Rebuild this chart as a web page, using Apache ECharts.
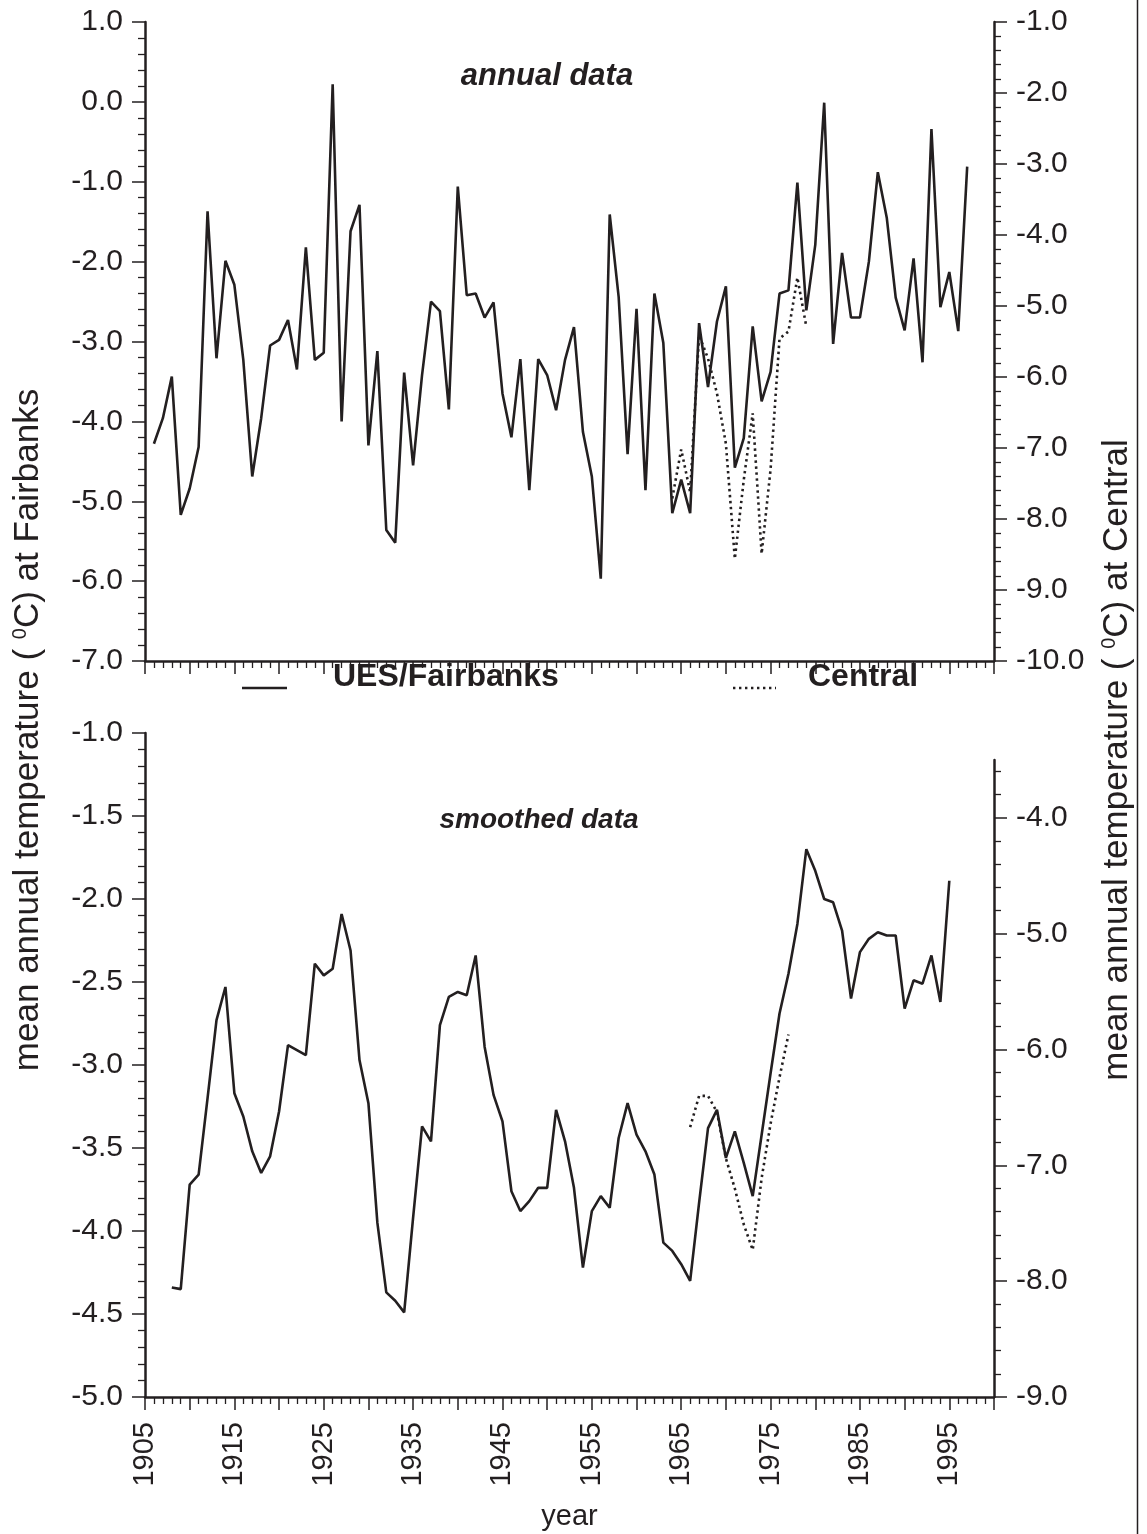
<!DOCTYPE html>
<html>
<head>
<meta charset="utf-8">
<script src="https://cdn.jsdelivr.net/npm/echarts@6/dist/echarts.min.js"></script>
<style>
  html, body { margin: 0; padding: 0; background: #ffffff; }
  #chart { width: 1147px; height: 1534px; }
</style>
</head>
<body>
<div id="chart"></div>
<script>
// Mean annual air temperature, UES/Fairbanks and Central, Alaska

// annual data — UES/Fairbanks (left axis, °C)
const fairbanksAnnualYears = [
  1906, 1907, 1908, 1909, 1910, 1911, 1912, 1913, 1914, 1915,
  1916, 1917, 1918, 1919, 1920, 1921, 1922, 1923, 1924, 1925,
  1926, 1927, 1928, 1929, 1930, 1931, 1932, 1933, 1934, 1935,
  1936, 1937, 1938, 1939, 1940, 1941, 1942, 1943, 1944, 1945,
  1946, 1947, 1948, 1949, 1950, 1951, 1952, 1953, 1954, 1955,
  1956, 1957, 1958, 1959, 1960, 1961, 1962, 1963, 1964, 1965,
  1966, 1967, 1968, 1969, 1970, 1971, 1972, 1973, 1974, 1975,
  1976, 1977, 1978, 1979, 1980, 1981, 1982, 1983, 1984, 1985,
  1986, 1987, 1988, 1989, 1990, 1991, 1992, 1993, 1994, 1995,
  1996, 1997
];
const fairbanksAnnual = [
  -4.28, -3.96, -3.44, -5.17, -4.84, -4.32, -1.37, -3.21, -1.99, -2.29,
  -3.23, -4.69, -3.96, -3.05, -2.98, -2.73, -3.35, -1.82, -3.23, -3.14,
   0.22, -4.00, -1.62, -1.29, -4.30, -3.12, -5.36, -5.52, -3.39, -4.55,
  -3.42, -2.50, -2.62, -3.85, -1.06, -2.42, -2.40, -2.70, -2.51, -3.65,
  -4.20, -3.22, -4.86, -3.22, -3.42, -3.86, -3.23, -2.82, -4.13, -4.69,
  -5.97, -1.41, -2.44, -4.41, -2.59, -4.86, -2.40, -3.02, -5.15, -4.73,
  -5.15, -2.77, -3.57, -2.75, -2.31, -4.58, -4.21, -2.81, -3.75, -3.38,
  -2.40, -2.36, -1.01, -2.61, -1.79, -0.01, -3.03, -1.89, -2.70, -2.70,
  -2.00, -0.88, -1.45, -2.45, -2.86, -1.96, -3.26, -0.34, -2.57, -2.13,
  -2.87, -0.81
];

// annual data — Central (right axis, °C)
const centralAnnualYears = [
  1964, 1965, 1966, 1967, 1968, 1969, 1970, 1971,
  1972, 1973, 1974, 1975, 1976, 1977, 1978, 1979
];
const centralAnnual = [
  -7.71, -7.02, -7.62, -5.41, -5.74, -6.23, -6.94, -8.56,
  -7.45, -6.51, -8.49, -7.30, -5.46, -5.36, -4.60, -5.29
];

// smoothed data — UES/Fairbanks (left axis, °C)
const fairbanksSmoothYears = [
  1908, 1909, 1910, 1911, 1912, 1913, 1914, 1915, 1916, 1917,
  1918, 1919, 1920, 1921, 1922, 1923, 1924, 1925, 1926, 1927,
  1928, 1929, 1930, 1931, 1932, 1933, 1934, 1935, 1936, 1937,
  1938, 1939, 1940, 1941, 1942, 1943, 1944, 1945, 1946, 1947,
  1948, 1949, 1950, 1951, 1952, 1953, 1954, 1955, 1956, 1957,
  1958, 1959, 1960, 1961, 1962, 1963, 1964, 1965, 1966, 1967,
  1968, 1969, 1970, 1971, 1972, 1973, 1974, 1975, 1976, 1977,
  1978, 1979, 1980, 1981, 1982, 1983, 1984, 1985, 1986, 1987,
  1988, 1989, 1990, 1991, 1992, 1993, 1994, 1995
];
const fairbanksSmooth = [
  -4.34, -4.35, -3.72, -3.66, -3.20, -2.73, -2.53, -3.17, -3.31, -3.52,
  -3.65, -3.55, -3.28, -2.88, -2.91, -2.94, -2.39, -2.46, -2.42, -2.09,
  -2.31, -2.97, -3.23, -3.95, -4.37, -4.42, -4.49, -3.92, -3.37, -3.46,
  -2.76, -2.59, -2.56, -2.58, -2.34, -2.89, -3.18, -3.34, -3.76, -3.88,
  -3.82, -3.74, -3.74, -3.27, -3.46, -3.74, -4.22, -3.88, -3.79, -3.86,
  -3.44, -3.23, -3.42, -3.52, -3.66, -4.07, -4.12, -4.20, -4.30, -3.83,
  -3.38, -3.27, -3.56, -3.40, -3.59, -3.79, -3.42, -3.05, -2.69, -2.45,
  -2.15, -1.70, -1.83, -2.00, -2.02, -2.19, -2.60, -2.32, -2.24, -2.20,
  -2.22, -2.22, -2.66, -2.49, -2.51, -2.34, -2.62, -1.89
];

// smoothed data — Central (right axis, °C)
const centralSmoothYears = [
  1966, 1967, 1968, 1969, 1970, 1971, 1972, 1973, 1974, 1975, 1976, 1977
];
const centralSmooth = [
  -6.67, -6.40, -6.40, -6.54, -6.94, -7.20, -7.51, -7.73, -7.11, -6.64, -6.24, -5.87
];

// axis tick values
const yearLabels = [1905, 1915, 1925, 1935, 1945, 1955, 1965, 1975, 1985, 1995];
const centralSmoothMajorTicks = [-9, -8, -7, -6, -5, -4];

const INK = '#231f20';
const FONT = '"Liberation Sans", Arial, Helvetica, sans-serif';

function pairs(xs, ys) {
  return xs.map((x, i) => [x, ys[i]]);
}

function yearAxis(gridIndex, withLabels, visible) {
  return {
    type: 'value', gridIndex, min: 1905, max: 2000, interval: 5,
    show: visible,
    axisLine: { show: true, onZero: false, lineStyle: { color: INK, width: 2.5 } },
    axisTick: { show: true, length: 13, lineStyle: { color: INK, width: 1.5 } },
    minorTick: { show: true, splitNumber: 5, length: 7, lineStyle: { color: INK, width: 1.3 } },
    splitLine: { show: false },
    minorSplitLine: { show: false },
    axisLabel: {
      show: withLabels, rotate: 90, margin: 25, color: INK,
      fontFamily: FONT, fontSize: 29,
      formatter: v => (yearLabels.indexOf(v) >= 0 ? String(v) : '')
    },
    name: withLabels ? 'year' : '',
    nameLocation: 'middle', nameGap: 105,
    nameTextStyle: { color: INK, fontFamily: FONT, fontSize: 29 }
  };
}

function tempAxis(gridIndex, position, min, max, interval, extra) {
  return Object.assign({
    type: 'value', gridIndex, position, min, max, interval,
    axisLine: { show: true, onZero: false, lineStyle: { color: INK, width: 2.5 } },
    axisTick: { show: true, length: 13, lineStyle: { color: INK, width: 1.5 } },
    minorTick: { show: true, splitNumber: 5, length: 7, lineStyle: { color: INK, width: 1.3 } },
    splitLine: { show: false },
    minorSplitLine: { show: false },
    axisLabel: {
      margin: 22, color: INK, fontFamily: FONT, fontSize: 30,
      formatter: v => v.toFixed(1)
    }
  }, extra || {});
}

// minor tick positions of the lower Central axis
const centralSmoothMinorTicks = [];
for (let t = -8.8; t < -3.55; t += 0.2) {
  const r = Math.round(t * 10) / 10;
  if (Math.abs(r - Math.round(r)) > 0.05) centralSmoothMinorTicks.push(r);
}

const solid = { color: INK, width: 2.6, type: 'solid' };
const dotted = { color: INK, width: 2.6, type: [2.4, 3.6], cap: 'butt' };

const chart = echarts.init(document.getElementById('chart'), null, { renderer: 'canvas' });

chart.setOption({
  backgroundColor: '#ffffff',
  animation: false,
  grid: [
    { left: 145, right: 153, top: 22, bottom: 873, containLabel: false, outerBoundsMode: 'none' },
    { left: 145, right: 153, top: 733, bottom: 137, containLabel: false, outerBoundsMode: 'none' },
    { left: 145, right: 153, top: 760, bottom: 137, containLabel: false, outerBoundsMode: 'none' }
  ],
  xAxis: [
    yearAxis(0, false, true),
    yearAxis(1, true, true),
    yearAxis(2, false, false)
  ],
  yAxis: [
    tempAxis(0, 'left', -7, 1, 1),
    tempAxis(0, 'right', -10, -1, 1),
    tempAxis(1, 'left', -5, -1, 0.5),
    tempAxis(2, 'right', -9, -3.5, 1, {
      minorTick: { show: false },
      axisTick: { show: true, length: 13, customValues: centralSmoothMajorTicks,
                  lineStyle: { color: INK, width: 1.5 } },
      axisLabel: { margin: 22, color: INK, fontFamily: FONT, fontSize: 30,
                   customValues: centralSmoothMajorTicks, formatter: v => v.toFixed(1) }
    }),
    tempAxis(2, 'right', -9, -3.5, 1, {
      axisLine: { show: false },
      minorTick: { show: false },
      axisTick: { show: true, length: 7, customValues: centralSmoothMinorTicks,
                  lineStyle: { color: INK, width: 1.3 } },
      axisLabel: { show: false }
    })
  ],
  series: [
    { name: 'UES/Fairbanks', type: 'line', xAxisIndex: 0, yAxisIndex: 0, symbol: 'none',
      data: pairs(fairbanksAnnualYears, fairbanksAnnual), lineStyle: solid, z: 3 },
    { name: 'Central', type: 'line', xAxisIndex: 0, yAxisIndex: 1, symbol: 'none',
      data: pairs(centralAnnualYears, centralAnnual), lineStyle: dotted, z: 2 },
    { name: 'UES/Fairbanks', type: 'line', xAxisIndex: 1, yAxisIndex: 2, symbol: 'none',
      data: pairs(fairbanksSmoothYears, fairbanksSmooth), lineStyle: solid, z: 3 },
    { name: 'Central', type: 'line', xAxisIndex: 2, yAxisIndex: 3, symbol: 'none',
      data: pairs(centralSmoothYears, centralSmooth), lineStyle: dotted, z: 2 }
  ],
  graphic: [
    // panel titles
    { type: 'text', x: 547, y: 76, style: { text: 'annual data', align: 'center', verticalAlign: 'middle',
      fill: INK, font: 'italic bold 31px ' + FONT } },
    { type: 'text', x: 539, y: 820, style: { text: 'smoothed data', align: 'center', verticalAlign: 'middle',
      fill: INK, font: 'italic bold 28px ' + FONT } },
    // legend
    { type: 'line', shape: { x1: 242, y1: 688, x2: 287, y2: 688 }, style: { stroke: INK, lineWidth: 2.5 } },
    { type: 'text', x: 333, y: 677, style: { text: 'UES/Fairbanks', align: 'left', verticalAlign: 'middle',
      fill: INK, font: 'bold 32px ' + FONT } },
    { type: 'line', shape: { x1: 733, y1: 688, x2: 776, y2: 688 },
      style: { stroke: INK, lineWidth: 2.5, lineDash: [2.4, 3.6] } },
    { type: 'text', x: 808, y: 677, style: { text: 'Central', align: 'left', verticalAlign: 'middle',
      fill: INK, font: 'bold 32px ' + FONT } },
    // vertical axis titles
    { type: 'text', x: 28, y: 730, rotation: Math.PI / 2,
      style: { text: 'mean annual temperature ( {s|0}C) at Fairbanks', align: 'center', verticalAlign: 'middle',
        fill: INK, font: '35px ' + FONT,
        rich: { s: { fontSize: 20, fontFamily: FONT, fill: INK, verticalAlign: 'top', lineHeight: 16 } } } },
    { type: 'text', x: 1117, y: 760, rotation: Math.PI / 2,
      style: { text: 'mean annual temperature ( {s|0}C) at Central', align: 'center', verticalAlign: 'middle',
        fill: INK, font: '35px ' + FONT,
        rich: { s: { fontSize: 20, fontFamily: FONT, fill: INK, verticalAlign: 'top', lineHeight: 16 } } } },
    // frame edge on the right
    { type: 'line', shape: { x1: 1137.5, y1: 0, x2: 1137.5, y2: 1534 }, style: { stroke: INK, lineWidth: 1.5 } }
  ]
});
</script>
</body>
</html>
